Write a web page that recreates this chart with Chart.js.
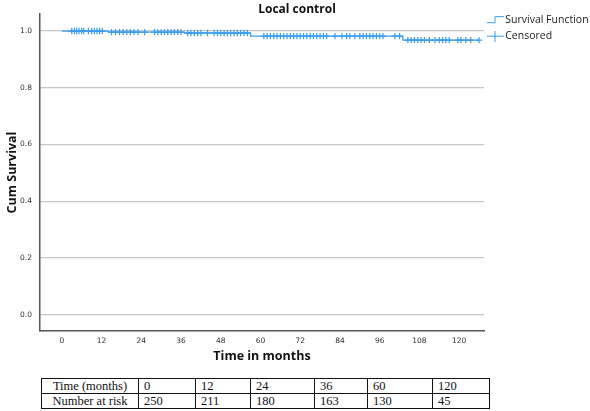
<!DOCTYPE html>
<html>
<head>
<meta charset="utf-8">
<script src="https://cdn.jsdelivr.net/npm/chart.js@4"></script>
<style>
  body { margin: 0; background: #fff; }
  #wrap { position: relative; width: 590px; height: 411px; overflow: hidden; }
  #chart1 { position: absolute; left: 0; top: 0; }
  table.risk {
    position: absolute; left: 41px; top: 378px;
    border-collapse: collapse;
    font-family: "Liberation Serif", serif; font-size: 12.5px; color: #111;
    table-layout: fixed;
  }
  table.risk td { border: 1.3px solid #111; height: 14px; padding: 0 0 0 5px; line-height: 14px; white-space: nowrap; }
  table.risk td.head { text-align: center; padding: 0; }
</style>
</head>
<body>
<div id="wrap">
  <canvas id="chart1" width="590" height="376"></canvas>
  <table class="risk" id="risk"></table>
</div>
<script>
/************* data ********* */
// Kaplan-Meier steps (time in months, cumulative survival after the drop)
const kmTimes = [0, 14, 37, 57, 103, 126];
const kmSurv = [1.0, 0.996, 0.993, 0.982, 0.968, 0.968];

// censored observations (months)
const censTimes = [
  3, 3.8, 4.5, 5.2, 6, 6.6, 8, 9, 9.8, 10.6, 11.4, 12.2,
  15, 16.2, 17.4, 18.5, 19.6, 20.7, 21.8, 23, 25, 28, 29, 30, 31, 32, 33, 34, 35, 36,
  38, 39, 40, 41, 42, 44, 46, 47, 48, 49, 50, 51, 52, 53, 54, 55, 56,
  61, 62, 63, 64, 65, 66, 67, 68, 69, 70, 71, 72, 73, 74, 75, 76, 77, 78, 79, 80,
  82.5, 84.6, 86, 87, 88.5, 90, 91, 92, 93, 94, 95, 96, 97, 100.6, 102,
  104.5, 105.5, 106.5, 107.5, 108.5, 109.5, 111, 112.7, 114, 115, 116, 117,
  119.6, 120.5, 122, 123.5, 126
];

const xTicks = [0, 12, 24, 36, 48, 60, 72, 84, 96, 108, 120];
const yTicks = [0, 0.2, 0.4, 0.6, 0.8, 1.0];
const yTickLabels = ["0.0", "0.2", "0.4", "0.6", "0.8", "1.0"];

const riskTimes = ["0", "12", "24", "36", "60", "120"];
const riskCounts = ["250", "211", "180", "163", "130", "45"];

/************* helpers ********* */
const blue = '#3A9DF0';

function survAt(t) {
  let s = kmSurv[0];
  for (let i = 0; i < kmTimes.length; i++) {
    if (kmTimes[i] <= t) s = kmSurv[i];
  }
  return s;
}

// legend icons
function stepIcon() {
  const c = document.createElement('canvas');
  c.width = 17; c.height = 9;
  const g = c.getContext('2d');
  g.strokeStyle = blue; g.lineWidth = 1;
  g.beginPath();
  g.moveTo(0, 7.5); g.lineTo(8.5, 7.5); g.lineTo(8.5, 1.5); g.lineTo(17, 1.5);
  g.stroke();
  return c;
}
function crossIcon() {
  const c = document.createElement('canvas');
  c.width = 17; c.height = 11;
  const g = c.getContext('2d');
  g.strokeStyle = blue; g.lineWidth = 1;
  g.beginPath();
  g.moveTo(0, 5.5); g.lineTo(17, 5.5);
  g.moveTo(8.5, 0); g.lineTo(8.5, 11);
  g.stroke();
  return c;
}
const icons = [stepIcon(), crossIcon()];

/************* chart ********* */
new Chart("chart1", {
  type: "scatter",
  data: {
    datasets: [{
      label: 'Survival Function',
      data: kmTimes.map((t, i) => ({ x: t, y: kmSurv[i] })),
      showLine: true,
      stepped: true,
      borderColor: blue,
      borderWidth: 1.3,
      pointRadius: 0,
      fill: false
    }, {
      label: 'Censored',
      data: censTimes.map(t => ({ x: t, y: survAt(t) })),
      showLine: false,
      pointStyle: 'cross',
      pointRadius: 3.2,
      pointBorderColor: blue,
      pointBorderWidth: 1.2,
      pointHoverRadius: 3
    }]
  },
  options: {
    responsive: false,
    animation: false,
    layout: { padding: { left: 4, right: 0, top: 0, bottom: 0 } },
    plugins: {
      title: {
        display: true,
        text: 'Local control',
        color: '#111',
        font: { family: 'Open Sans', size: 12, weight: 'bold', lineHeight: 1.0 },
        padding: { top: 4, bottom: -2 }
      },
      legend: {
        position: 'right',
        align: 'start',
        maxWidth: 106,
        title: {
          display: true,
          text: ' ',
          font: { size: 7 },
          padding: { top: 0, bottom: 0 }
        },
        labels: {
          usePointStyle: true,
          pointStyleWidth: 10,
          color: '#222',
          padding: 6,
          font: { family: 'Open Sans', size: 10.5 },
          generateLabels: function (chart) {
            const items = Chart.defaults.plugins.legend.labels.generateLabels(chart);
            items.forEach((it, i) => { it.pointStyle = icons[i]; });
            return items;
          }
        }
      },
      tooltip: { enabled: false }
    },
    scales: {
      x: {
        type: 'linear',
        min: -6.6,
        max: 127.5,
        afterBuildTicks: axis => { axis.ticks = xTicks.map(v => ({ value: v })); },
        afterFit: axis => { axis.height = 45; },
        grid: { display: false, drawTicks: false },
        border: { display: true, color: '#555', width: 1.5 },
        ticks: {
          color: '#333',
          padding: 6,
          maxRotation: 0,
          font: { family: 'DejaVu Sans', size: 7.5 },
          callback: v => String(v)
        },
        title: {
          display: true,
          text: 'Time in months',
          color: '#111',
          font: { family: 'Open Sans', size: 12.5, weight: 'bold' },
          padding: { top: 0, bottom: 12 }
        }
      },
      y: {
        min: -0.057,
        max: 1.06,
        afterBuildTicks: axis => { axis.ticks = yTicks.map(v => ({ value: v })); },
        afterFit: axis => { axis.width = 36; },
        grid: { color: '#c6c6c6', lineWidth: 1.3, drawTicks: false },
        border: { display: true, color: '#555', width: 1.5 },
        ticks: {
          color: '#333',
          padding: 8,
          font: { family: 'DejaVu Sans', size: 7.5 },
          callback: (v, i) => yTickLabels[i]
        },
        title: {
          display: true,
          text: 'Cum Survival',
          color: '#111',
          font: { family: 'Open Sans', size: 12.5, weight: 'bold' },
          padding: { top: 1, bottom: 0 }
        }
      }
    }
  }
});

/************* number at risk table ********* */
const colW = [97, 57, 55, 64, 53, 65, 57];
const tbl = document.getElementById('risk');
const cg = document.createElement('colgroup');
colW.forEach(w => { const c = document.createElement('col'); c.style.width = w + 'px'; cg.appendChild(c); });
tbl.appendChild(cg);
[["Time (months)", riskTimes], ["Number at risk", riskCounts]].forEach(row => {
  const tr = document.createElement('tr');
  const th = document.createElement('td');
  th.className = 'head';
  th.textContent = row[0];
  tr.appendChild(th);
  row[1].forEach(v => { const td = document.createElement('td'); td.textContent = v; tr.appendChild(td); });
  tbl.appendChild(tr);
});
</script>
</body>
</html>
